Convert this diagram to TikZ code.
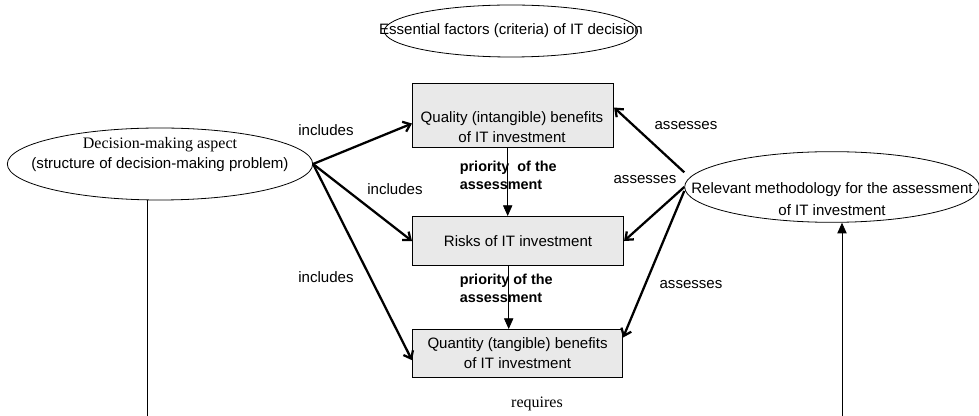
\documentclass[tikz,border=0pt]{standalone}
\usepackage{fontspec}
\setmainfont{Liberation Sans}
\newfontfamily\serif{Liberation Serif}
\usetikzlibrary{shapes.geometric,arrows.meta}

\begin{document}
\begin{tikzpicture}[x=0.75pt, y=-0.75pt, font=\fontsize{11.3}{15}\selectfont, line width=0.6pt,
  oval/.style = {draw, ellipse, inner sep=0pt},
  box/.style = {draw, line width=0.8pt, fill=gray!17, inner sep=0pt, align=center, anchor=north west},
  incl/.style = {line width=1.7pt, -{Straight Barb[length=5pt,width=8pt]}},
  prio/.style = {-{Triangle[length=8pt,width=7pt]}},
  lab/.style = {font=\fontsize{10.8}{13.5}\selectfont\bfseries, align=left, anchor=west}]
\useasboundingbox (0,0) rectangle (979,416);
\node[oval, minimum width=190pt, minimum height=39pt] (crit) at (511,31) {};
\node (crittext) at (crit.center) {Essential factors (criteria) of IT decision};
\node[oval, minimum width=229pt, minimum height=54pt] (dec) at (160,164) {};
\node[align=center] (dectext) at (160,155) {{\serif\fontsize{12}{15}\selectfont Decision-making aspect}\\(structure of decision-making problem)};
\node[oval, minimum width=221pt, minimum height=53pt] (meth) at (832,187) {};
\node[align=center, font=\fontsize{11.3}{16.5}\selectfont] (methtext) at (832,199) {Relevant methodology for the assessment\\of IT investment};
\node[box, minimum width=150.75pt, minimum height=48pt] (qual) at (412,83) {};
\node[align=center] (qualtext) at (512,127) {Quality (intangible) benefits\\of IT investment};
\node[box, minimum width=158.25pt, minimum height=36.75pt] (risk) at (412,216) {Risks of IT investment};
\node[box, minimum width=157.5pt, minimum height=36pt] (quan) at (412,329) {Quantity (tangible) benefits\\of IT investment};
\coordinate (decfoot) at (147,416);
\coordinate (methfoot) at (842,416);
\draw[incl] (dec.east) -- ([yshift=-6pt]qual.west);
\draw[incl] (dec.east) -- (risk.west);
\draw[incl] (dec.east) -- ([yshift=-5pt]quan.west);
\draw[incl] ([yshift=11pt]meth.west) -- ([yshift=6pt]qual.east);
\draw[incl] (meth.west) -- (risk.east);
\draw[incl] ([yshift=-3pt]meth.west) -- ([yshift=12pt]quan.east);
\draw[prio] ([xshift=-4pt]qual.south) -- ([xshift=-4pt]qual.south |- risk.north);
\draw[prio] ([xshift=-7pt]risk.south) -- ([xshift=-7pt]risk.south |- quan.north);
\draw (dec.south -| decfoot) -- (decfoot);
\draw[prio] (methfoot) -- (meth.south -| methfoot);
\node (inc1) at (326,130) {includes};
\node (inc2) at (395,189) {includes};
\node (inc3) at (326,277) {includes};
\node (ass1) at (686,126) {assesses};
\node (ass2) at (645,180) {assesses};
\node (ass3) at (691,285) {assesses};
\node[lab] (pri1) at (455,175) {priority\ \ of the\\assessment};
\node[lab] (pri2) at (455,288) {priority\ of the\\assessment};
\node[font=\serif\fontsize{12}{14}\selectfont] (req) at (537,404) {requires};
\end{tikzpicture}
\end{document}
